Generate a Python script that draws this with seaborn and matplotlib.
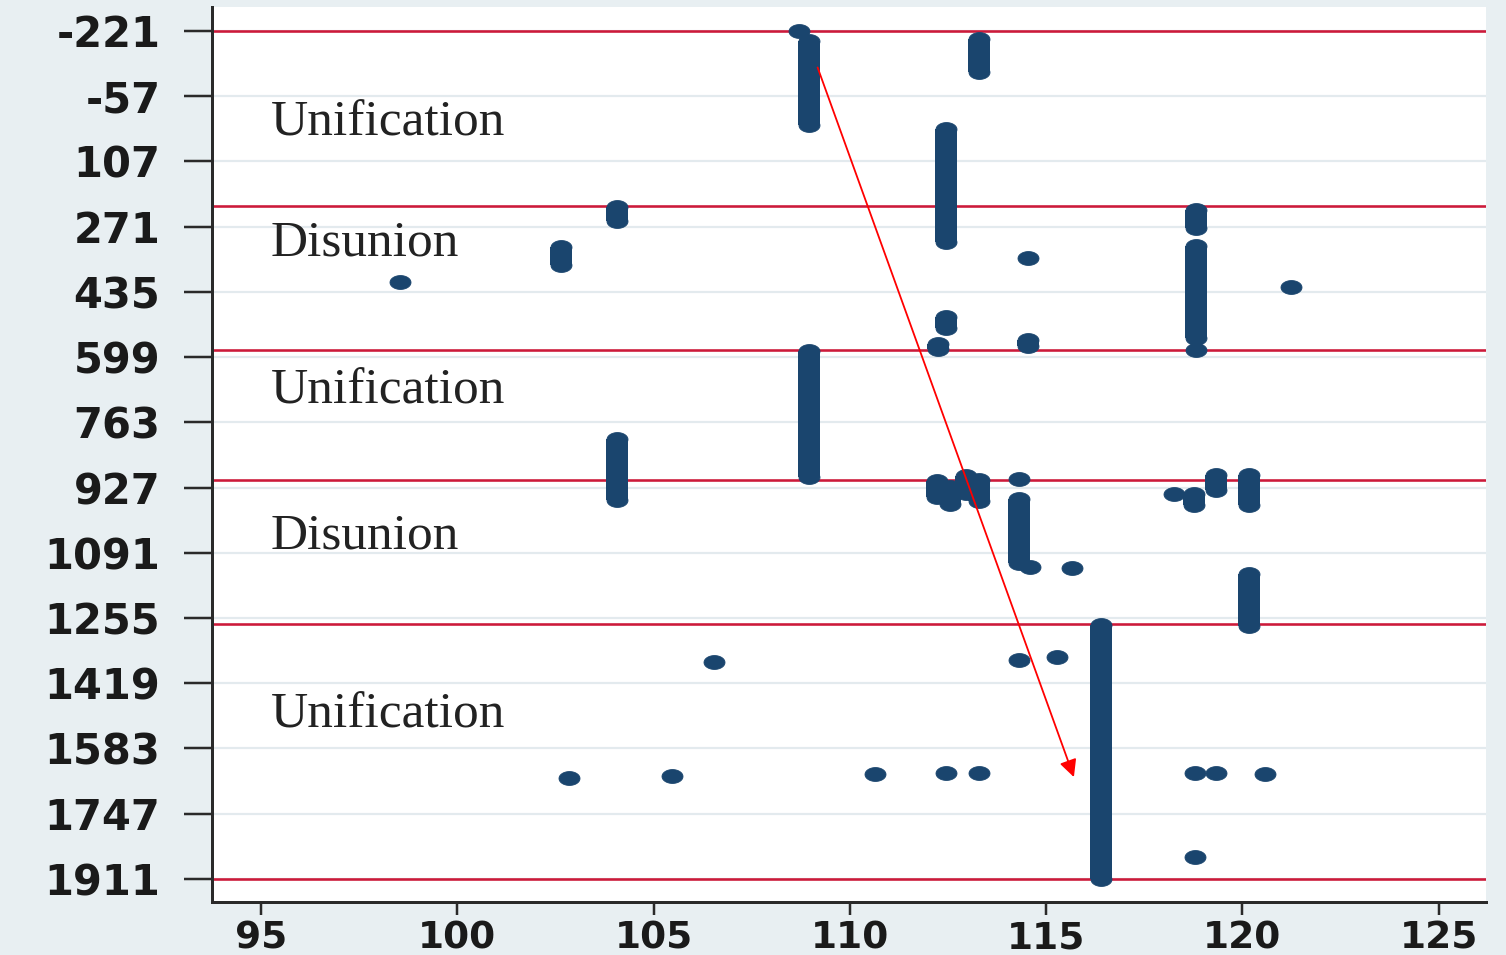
import numpy as np
import pandas as pd
import matplotlib
matplotlib.use("Agg")
import matplotlib.pyplot as plt
from matplotlib.path import Path
from matplotlib.markers import MarkerStyle
import seaborn as sns

# Capital locations (longitude) and the span of years each was held
bar_lon = [108.97, 113.29, 112.45, 104.06, 102.64, 118.82, 118.82, 112.46,
           112.26, 114.55, 108.97, 104.06, 112.22, 112.55, 112.95, 113.29,
           114.31, 118.77, 119.34, 120.16, 120.16, 116.40]
bar_start = [-195, -200, 25, 223, 322, 229, 320, 498,
             565, 557, 585, 805, 910, 925, 898, 908,
             955, 943, 895, 895, 1144, 1272]
bar_end = [15, -118, 311, 258, 367, 275, 550, 526,
           578, 570, 900, 958, 950, 968, 940, 960,
           1118, 971, 933, 971, 1275, 1910]

# Capitals held only briefly (single-year marks)
dot_lon = [108.71, 98.53, 114.54, 118.82, 121.25, 114.31, 114.60, 115.66,
           118.25, 106.54, 114.32, 115.27, 102.85, 105.46, 110.63, 112.46,
           113.28, 118.80, 119.33, 120.58, 118.80]
dot_year = [-220, 410, 350, 581, 423, 905, 1127, 1129,
            943, 1365, 1360, 1353, 1657, 1652, 1647, 1645,
            1645, 1645, 1645, 1647, 1856]

# Period boundaries and period names
period_breaks = [-221, 220, 581, 907, 1271, 1911]
period_names = ["Unification", "Disunion", "Unification", "Disunion", "Unification"]
period_label_year = [10, 312, 684, 1049, 1499]

y_ticks = [-221, -57, 107, 271, 435, 599, 763, 927, 1091, 1255, 1419, 1583, 1747, 1911]
x_ticks = [95, 100, 105, 110, 115, 120, 125]

# Trend arrow (start lon, start year) -> (end lon, end year)
arrow_start = (109.18, -129)
arrow_end = (115.71, 1655)

NAVY = "#1a456e"
RED_LINE = "#cc1a3a"
BG = "#e8eff2"

sns.set_style("white")
plt.rcParams["font.family"] = ["DejaVu Sans"]

DPI = 100
fig = plt.figure(figsize=(15.06, 9.55), dpi=DPI, facecolor=BG)
W, H = 1506, 955
ax = fig.add_axes([212 / W, 1 - 902 / H, (1486 - 212) / W, (902 - 7) / H])
ax.set_facecolor("white")

px = 72.0 / DPI  # points per pixel

# long table of segment end points for seaborn
seg_rows = []
for i, (lo, s, e) in enumerate(zip(bar_lon, bar_start, bar_end)):
    seg_rows.append({"seg": i, "lon": lo, "year": s})
    seg_rows.append({"seg": i, "lon": lo, "year": e})
segs = pd.DataFrame(seg_rows)

# every distinct mark gets an elliptical cap / dot
ends = pd.concat([segs[["lon", "year"]],
                  pd.DataFrame({"lon": dot_lon, "year": dot_year})],
                 ignore_index=True)

theta = np.linspace(0, 2 * np.pi, 64)
ellipse = Path(np.column_stack([np.cos(theta), 0.66 * np.sin(theta)]), closed=True)
ell_marker = MarkerStyle(ellipse)

# grid and period boundaries
ax.set_yticks(y_ticks)
ax.set_xticks(x_ticks)
ax.yaxis.grid(True, color="#e3eaee", lw=2.2 * px)
ax.xaxis.grid(False)
for yb in period_breaks:
    ax.axhline(yb, color=RED_LINE, lw=2.6 * px, zorder=2)

sns.scatterplot(data=ends, x="lon", y="year", marker=ell_marker,
                s=(21 * px) ** 2, color=NAVY, edgecolor=NAVY, linewidth=0.6,
                legend=False, ax=ax, zorder=3)
sns.lineplot(data=segs, x="lon", y="year", units="seg", estimator=None,
             sort=False, color=NAVY, linewidth=22 * px, legend=False,
             solid_capstyle="butt", ax=ax, zorder=4)

for name, yr in zip(period_names, period_label_year):
    ax.text(95.25, yr, name, fontsize=37, family=["Liberation Serif"],
            color="#222222", va="center", ha="left", zorder=5)

ax.annotate("", xy=arrow_end, xytext=arrow_start,
            arrowprops=dict(arrowstyle="-|>", color="#ff0000", lw=1.3,
                            mutation_scale=26, shrinkA=0, shrinkB=0),
            zorder=6)

ax.set_xlim(93.75, 126.21)
ax.set_ylim(1969, -281)
ax.set_xlabel("")
ax.set_ylabel("")

for side in ("top", "right"):
    ax.spines[side].set_visible(False)
for side in ("left", "bottom"):
    ax.spines[side].set_color("#2a2a2a")
    ax.spines[side].set_linewidth(3 * px)

ax.tick_params(axis="y", which="major", length=28 * px, width=2.5 * px,
               pad=17, labelsize=30, colors="#2a2a2a", labelcolor="#1a1a1a",
               left=True)
ax.tick_params(axis="x", which="major", length=13 * px, width=2.5 * px,
               pad=4, labelsize=27, colors="#2a2a2a", labelcolor="#1a1a1a",
               bottom=True)
ax.set_yticklabels([str(v) for v in y_ticks], fontweight="bold")
ax.set_xticklabels([str(v) for v in x_ticks], fontweight="bold")

fig.savefig("out.png", dpi=DPI, facecolor=BG)
